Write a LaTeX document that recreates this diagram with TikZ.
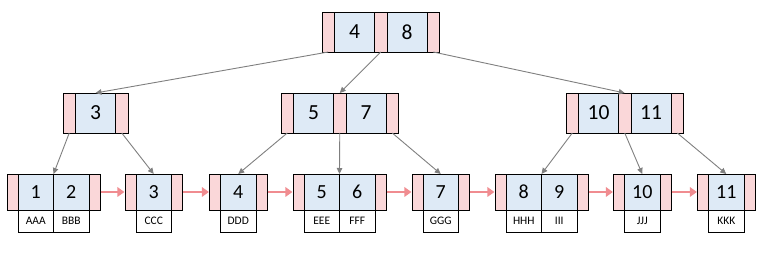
\documentclass[tikz,border=0pt]{standalone}
\usepackage{fontspec}
\setmainfont{Carlito}
\usetikzlibrary{arrows.meta}
\definecolor{keyblue}{HTML}{DEEAF6}
\definecolor{ptrpink}{HTML}{FAD7D9}
\definecolor{linkred}{HTML}{F08C90}
\definecolor{conngray}{HTML}{7F7F7F}
\tikzset{
  cell/.style={draw=black, line width=0.9pt, inner sep=0pt, outer sep=0pt, anchor=north west},
  iptr/.style={cell, fill=ptrpink, minimum width=12.5pt, minimum height=40pt},
  ikey/.style={cell, fill=keyblue, minimum width=40pt, minimum height=40pt, font=\fontsize{21.5}{22}\selectfont},
  lptr/.style={cell, fill=ptrpink, minimum width=11pt, minimum height=36pt},
  lkey/.style={cell, fill=keyblue, minimum width=35.5pt, minimum height=36pt, font=\fontsize{20}{21}\selectfont},
  ldata/.style={cell, fill=white, minimum width=35.5pt, minimum height=22pt, font=\fontsize{11.5}{12}\selectfont},
  conn/.style={draw=conngray, line width=0.9pt, -{Triangle[length=6pt,width=5.5pt]}},
  link/.style={draw=linkred, line width=2.8pt, -{Triangle[length=7pt,width=9.5pt]}, shorten <=0.6pt, shorten >=0.6pt}
}
\begin{document}
\begin{tikzpicture}[x=1pt,y=-1pt]
\useasboundingbox (0,0) rectangle (764,256);
% ---------- root ----------
\node[iptr] (rp0) at (322,12) {};
\node[ikey] (rk1) at (rp0.north east) {4};
\node[iptr] (rp1) at (rk1.north east) {};
\node[ikey] (rk2) at (rp1.north east) {8};
\node[iptr] (rp2) at (rk2.north east) {};
% ---------- level 2 ----------
\node[iptr] (ap0) at (63,93) {};
\node[ikey] (ak1) at (ap0.north east) {3};
\node[iptr] (ap1) at (ak1.north east) {};
\node[iptr] (bp0) at (281,93) {};
\node[ikey] (bk1) at (bp0.north east) {5};
\node[iptr] (bp1) at (bk1.north east) {};
\node[ikey] (bk2) at (bp1.north east) {7};
\node[iptr] (bp2) at (bk2.north east) {};
\node[iptr] (cp0) at (566,93) {};
\node[ikey] (ck1) at (cp0.north east) {10};
\node[iptr] (cp1) at (ck1.north east) {};
\node[ikey] (ck2) at (cp1.north east) {11};
\node[iptr] (cp2) at (ck2.north east) {};
% ---------- leaves ----------
% leaf 1|2
\node[lptr] (l1a) at (7,174) {};
\node[lkey] (l1k1) at (l1a.north east) {1};
\node[lkey] (l1k2) at (l1k1.north east) {2};
\node[lptr] (l1b) at (l1k2.north east) {};
\node[ldata] (l1d1) at (l1k1.south west) {AAA};
\node[ldata] (l1d2) at (l1k2.south west) {BBB};
% leaf 3
\node[lptr] (l2a) at (125,174) {};
\node[lkey] (l2k1) at (l2a.north east) {3};
\node[lptr] (l2b) at (l2k1.north east) {};
\node[ldata] (l2d1) at (l2k1.south west) {CCC};
% leaf 4
\node[lptr] (l3a) at (209.5,174) {};
\node[lkey] (l3k1) at (l3a.north east) {4};
\node[lptr] (l3b) at (l3k1.north east) {};
\node[ldata] (l3d1) at (l3k1.south west) {DDD};
% leaf 5|6
\node[lptr] (l4a) at (293,174) {};
\node[lkey] (l4k1) at (l4a.north east) {5};
\node[lkey] (l4k2) at (l4k1.north east) {6};
\node[lptr] (l4b) at (l4k2.north east) {};
\node[ldata] (l4d1) at (l4k1.south west) {EEE};
\node[ldata] (l4d2) at (l4k2.south west) {FFF};
% leaf 7
\node[lptr] (l5a) at (412,174) {};
\node[lkey] (l5k1) at (l5a.north east) {7};
\node[lptr] (l5b) at (l5k1.north east) {};
\node[ldata] (l5d1) at (l5k1.south west) {GGG};
% leaf 8|9
\node[lptr] (l6a) at (495,174) {};
\node[lkey] (l6k1) at (l6a.north east) {8};
\node[lkey] (l6k2) at (l6k1.north east) {9};
\node[lptr] (l6b) at (l6k2.north east) {};
\node[ldata] (l6d1) at (l6k1.south west) {HHH};
\node[ldata] (l6d2) at (l6k2.south west) {III};
% leaf 10
\node[lptr] (l7a) at (613.5,174) {};
\node[lkey] (l7k1) at (l7a.north east) {10};
\node[lptr] (l7b) at (l7k1.north east) {};
\node[ldata] (l7d1) at (l7k1.south west) {JJJ};
% leaf 11
\node[lptr] (l8a) at (697.5,174) {};
\node[lkey] (l8k1) at (l8a.north east) {11};
\node[lptr] (l8b) at (l8k1.north east) {};
\node[ldata] (l8d1) at (l8k1.south west) {KKK};
% ---------- tree connectors ----------
\draw[conn] (rp0.south) -- (ak1.north);
\draw[conn] (rp1.south) -- (bp1.north);
\draw[conn] (rp2.south) -- (cp1.north);
\draw[conn] (ap0.south) -- (l1k1.north east);
\draw[conn] (ap1.south) -- (l2k1.north);
\draw[conn] (bp0.south) -- (l3k1.north);
\draw[conn] (bp1.south) -- (l4k1.north east);
\draw[conn] (bp2.south) -- (l5k1.north);
\draw[conn] (cp0.south) -- (l6k1.north east);
\draw[conn] (cp1.south) -- (l7k1.north);
\draw[conn] (cp2.south) -- (l8k1.north);
% ---------- leaf links ----------
\draw[link] (l1b.east) -- (l2a.west);
\draw[link] (l2b.east) -- (l3a.west);
\draw[link] (l3b.east) -- (l4a.west);
\draw[link] (l4b.east) -- (l5a.west);
\draw[link] (l5b.east) -- (l6a.west);
\draw[link] (l6b.east) -- (l7a.west);
\draw[link] (l7b.east) -- (l8a.west);
\end{tikzpicture}
\end{document}
